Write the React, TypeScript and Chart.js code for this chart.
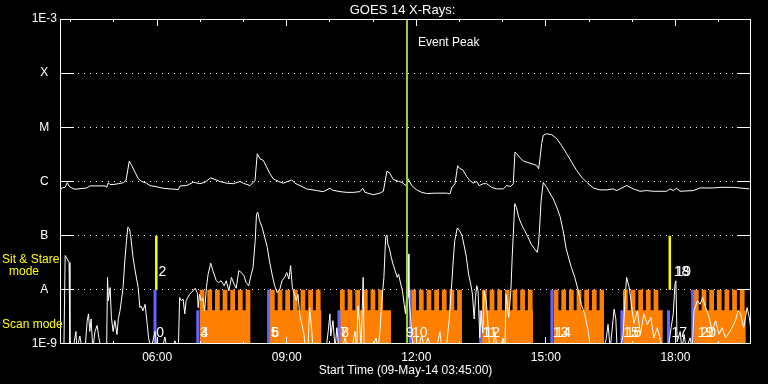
import React, { useEffect, useRef } from 'react';
import { Chart, registerables } from 'chart.js';

Chart.register(...registerables);

const FONT = "'Liberation Sans', Arial, sans-serif";
const T_START = 3.75; // 03:45
const T_END = 19.75;
const Y_MIN = 1e-9;
const Y_MAX = 1e-3;
const BELOW = 8e-10;

const yTickValues = [1e-9, 1e-8, 1e-7, 1e-6, 1e-5, 1e-4, 1e-3];
const yTickLabels = ['1E-9', 'A', 'B', 'C', 'M', 'X', '1E-3'];
const gridLevels = [1e-8, 1e-7, 1e-6, 1e-5, 1e-4];
const xLabelHours = [6, 9, 12, 15, 18];
const hourTicks = [4, 5, 6, 7, 8, 9, 10, 11, 12, 13, 14, 15, 16, 17, 18, 19];

// GOES 14 long channel (1-8 A)
const longTime = [3.766, 3.789, 3.866, 3.919, 3.965, 4.021, 4.097, 4.368, 4.445, 4.792, 4.831, 4.868, 4.908, 4.984, 5.1, 5.216, 5.278, 5.354, 5.41, 5.486, 5.563, 5.641, 5.757, 5.834, 5.95, 6.142, 6.297, 6.489, 6.528, 6.683, 6.836, 6.991, 7.107, 7.239, 7.339, 7.455, 7.61, 7.763, 7.918, 7.994, 8.149, 8.265, 8.318, 8.381, 8.457, 8.536, 8.612, 8.689, 8.804, 8.92, 9.036, 9.115, 9.191, 9.307, 9.462, 9.694, 9.846, 10.001, 10.064, 10.233, 10.388, 10.541, 10.696, 10.759, 10.812, 11.004, 11.159, 11.236, 11.275, 11.321, 11.391, 11.467, 11.583, 11.669, 11.761, 11.815, 11.893, 12.009, 12.125, 12.24, 12.472, 12.703, 12.78, 12.819, 12.896, 12.958, 13.011, 13.074, 13.166, 13.243, 13.319, 13.398, 13.458, 13.551, 13.629, 13.745, 13.861, 14.014, 14.092, 14.185, 14.245, 14.285, 14.324, 14.4, 14.477, 14.632, 14.787, 14.833, 14.863, 14.903, 14.94, 15.019, 15.135, 15.25, 15.366, 15.482, 15.598, 15.713, 15.829, 15.945, 16.098, 16.253, 16.408, 16.561, 16.64, 16.871, 17.024, 17.179, 17.334, 17.487, 17.796, 17.873, 17.95, 18.028, 18.105, 18.413, 18.568, 18.876, 19.031, 19.339, 19.494, 19.709];
const longFlux = [7.0e-7, 7.6e-7, 7.8e-7, 9.5e-7, 8.1e-7, 7.6e-7, 7.2e-7, 7.6e-7, 8.3e-7, 8.3e-7, 7.8e-7, 9.5e-7, 8.8e-7, 8.8e-7, 9.1e-7, 9.5e-7, 1.04e-6, 2.38e-6, 1.98e-6, 1.49e-6, 1.12e-6, 1.0e-6, 9.3e-7, 8.4e-7, 8.1e-7, 7.5e-7, 7.3e-7, 7.1e-7, 8.3e-7, 8.4e-7, 9.7e-7, 9.1e-7, 9.7e-7, 1.17e-6, 1.09e-6, 1.0e-6, 9.3e-7, 9.1e-7, 1.0e-6, 9.3e-7, 8.4e-7, 1.04e-6, 3.26e-6, 2.63e-6, 2.45e-6, 1.84e-6, 1.39e-6, 1.12e-6, 1.01e-6, 9.3e-7, 1.01e-6, 1.07e-6, 9.3e-7, 8.4e-7, 7.3e-7, 6.8e-7, 6.5e-7, 7.5e-7, 6.9e-7, 6.5e-7, 6.3e-7, 6.3e-7, 6.5e-7, 7.5e-7, 6.3e-7, 5.7e-7, 6.1e-7, 6.6e-7, 9.7e-7, 1.56e-6, 1.41e-6, 1.09e-6, 1.01e-6, 9.6e-7, 8.4e-7, 1.12e-6, 8.4e-7, 7.0e-7, 6.3e-7, 6.0e-7, 6.1e-7, 6.1e-7, 5.9e-7, 7.6e-7, 9.1e-7, 1.95e-6, 1.72e-6, 1.65e-6, 1.24e-6, 1.04e-6, 9.3e-7, 1.0e-6, 8.4e-7, 9.1e-7, 9.1e-7, 7.8e-7, 7.3e-7, 7.3e-7, 8.4e-7, 8.1e-7, 9.1e-7, 3.49e-6, 3.26e-6, 2.75e-6, 2.38e-6, 2.18e-6, 1.98e-6, 1.72e-6, 2.63e-6, 5.0e-6, 7.1e-6, 7.6e-6, 7.3e-6, 6.2e-6, 4.6e-6, 3.26e-6, 2.28e-6, 1.6e-6, 1.2e-6, 9.7e-7, 7.6e-7, 7.0e-7, 7.0e-7, 7.3e-7, 6.8e-7, 8.4e-7, 7.3e-7, 6.6e-7, 6.8e-7, 6.6e-7, 6.6e-7, 7.3e-7, 6.8e-7, 7.5e-7, 6.6e-7, 6.8e-7, 7.6e-7, 7.6e-7, 7.8e-7, 7.8e-7, 7.6e-7, 7.3e-7];

// GOES 14 short channel (0.5-4 A)
const shortTime = [3.77, 3.84, 3.87, 3.91, 3.96, 3.98, 4.05, 4.12, 4.14, 4.21, 4.26, 4.33, 4.38, 4.41, 4.44, 4.47, 4.51, 4.56, 4.61, 4.65, 4.7, 4.83, 4.85, 4.87, 4.91, 4.94, 4.98, 5.02, 5.07, 5.1, 5.14, 5.17, 5.21, 5.25, 5.29, 5.32, 5.36, 5.39, 5.44, 5.49, 5.56, 5.6, 5.63, 5.67, 5.72, 5.77, 5.8, 5.86, 5.95, 5.99, 6.11, 6.18, 6.23, 6.34, 6.41, 6.49, 6.52, 6.56, 6.6, 6.64, 6.67, 6.75, 6.83, 6.88, 6.93, 6.95, 6.98, 7.02, 7.06, 7.1, 7.14, 7.18, 7.24, 7.29, 7.37, 7.42, 7.48, 7.55, 7.6, 7.66, 7.72, 7.78, 7.83, 7.89, 7.95, 8.01, 8.06, 8.12, 8.17, 8.22, 8.27, 8.3, 8.33, 8.37, 8.43, 8.49, 8.55, 8.6, 8.66, 8.72, 8.78, 8.84, 8.89, 8.95, 9.0, 9.05, 9.09, 9.13, 9.18, 9.22, 9.26, 9.3, 9.35, 9.4, 9.43, 9.49, 9.53, 9.57, 9.61, 9.91, 9.96, 10.0, 10.02, 10.07, 10.12, 10.16, 10.21, 10.28, 10.35, 10.42, 10.51, 10.58, 10.62, 10.65, 10.69, 10.72, 10.77, 10.79, 10.83, 10.97, 11.07, 11.11, 11.16, 11.19, 11.25, 11.29, 11.32, 11.34, 11.38, 11.42, 11.46, 11.51, 11.56, 11.59, 11.64, 11.68, 11.72, 11.75, 11.77, 11.81, 11.83, 11.87, 11.9, 11.95, 12.04, 12.13, 12.18, 12.27, 12.34, 12.46, 12.55, 12.59, 12.69, 12.76, 12.81, 12.85, 12.89, 12.95, 13.0, 13.06, 13.1, 13.16, 13.21, 13.26, 13.3, 13.34, 13.37, 13.4, 13.43, 13.47, 13.5, 13.54, 13.57, 13.62, 13.68, 13.71, 13.77, 13.82, 13.87, 13.94, 14.01, 14.05, 14.08, 14.14, 14.19, 14.22, 14.28, 14.32, 14.37, 14.43, 14.51, 14.59, 14.66, 14.74, 14.8, 14.83, 14.86, 14.89, 14.94, 15.02, 15.1, 15.17, 15.25, 15.33, 15.4, 15.47, 15.59, 15.67, 15.75, 15.82, 15.9, 15.98, 16.04, 16.35, 16.4, 16.44, 16.49, 16.53, 16.58, 16.62, 16.65, 16.72, 16.79, 16.83, 16.87, 16.93, 16.97, 17.0, 17.04, 17.12, 17.19, 17.27, 17.35, 17.43, 17.5, 17.58, 17.66, 17.73, 17.83, 17.9, 17.95, 17.99, 18.01, 18.04, 18.11, 18.15, 18.2, 18.25, 18.34, 18.39, 18.43, 18.51, 18.57, 18.63, 18.7, 18.78, 18.85, 18.93, 19.01, 19.08, 19.16, 19.24, 19.31, 19.39, 19.45, 19.51, 19.58, 19.66, 19.71, 19.75];
const shortFlux = [8e-10, 8e-10, 4.3e-8, 3.8e-8, 3.2e-8, 8e-10, 8e-10, 1.7e-9, 8e-10, 1.4e-9, 8e-10, 8e-10, 2.7e-9, 3.6e-9, 1.7e-9, 2.9e-9, 8e-10, 1.7e-9, 2.2e-9, 1.3e-9, 8e-10, 8e-10, 1.7e-8, 6.3e-9, 1.1e-8, 3.1e-9, 1.7e-9, 2.7e-9, 1.5e-9, 2.9e-9, 4.1e-9, 6.3e-9, 1.1e-8, 3.4e-8, 8.1e-8, 1.43e-7, 1.33e-7, 9.3e-8, 4.0e-8, 2.25e-8, 1.1e-8, 4.7e-9, 5.0e-9, 4.1e-9, 5.4e-9, 2.3e-9, 1.3e-9, 8e-10, 1.7e-9, 8e-10, 8e-10, 1.35e-9, 8e-10, 8e-10, 1.15e-9, 8e-10, 7.2e-9, 6.3e-9, 6.8e-9, 3.6e-9, 6.3e-9, 8.3e-9, 9.6e-9, 1.07e-8, 8.8e-9, 4.7e-9, 8.3e-9, 6.3e-9, 6.9e-9, 4.1e-9, 1.1e-8, 1.95e-8, 3.1e-8, 2.25e-8, 1.47e-8, 1.36e-8, 1.47e-8, 1.19e-8, 1.47e-8, 9.6e-9, 1.69e-8, 1.28e-8, 1.07e-8, 2.25e-8, 2.09e-8, 1.82e-8, 1.36e-8, 1.19e-8, 1.82e-8, 2.6e-8, 8.1e-8, 2.5e-7, 2.7e-7, 1.9e-7, 1.43e-7, 9.3e-8, 6.1e-8, 3.4e-8, 1.95e-8, 1.19e-8, 8.9e-9, 1.03e-8, 1.47e-8, 1.69e-8, 2.09e-8, 1.58e-8, 2.8e-8, 1.1e-8, 8.3e-9, 6.3e-9, 8.3e-9, 3.6e-9, 2.3e-9, 1.5e-9, 8e-10, 8e-10, 4.7e-9, 2.2e-9, 8e-10, 8e-10, 1.7e-9, 3.6e-9, 1.4e-9, 2.7e-9, 8e-10, 2.0e-9, 8e-10, 8e-10, 1.3e-9, 8e-10, 8e-10, 1.7e-9, 8e-10, 5.1e-9, 2.3e-9, 8e-10, 1.7e-8, 1.1e-9, 8e-10, 8e-10, 1.3e-9, 8e-10, 1.7e-9, 4.7e-9, 1.7e-8, 9.3e-8, 1.03e-7, 7.0e-8, 5.7e-8, 4.0e-8, 3.0e-8, 2.25e-8, 1.7e-8, 1.95e-8, 1.28e-8, 9.6e-9, 5.4e-9, 3.6e-9, 6.3e-9, 4.6e-8, 7.2e-9, 3.1e-9, 1.3e-9, 8e-10, 8e-10, 1.5e-9, 8e-10, 1.3e-9, 8e-10, 8e-10, 1.7e-9, 8e-10, 8e-10, 2.7e-9, 9.6e-9, 3.0e-8, 8.1e-8, 1.39e-7, 1.24e-7, 1.0e-7, 7.0e-8, 4.0e-8, 1.95e-8, 1.28e-8, 8.3e-9, 2.9e-9, 7.2e-9, 1.19e-8, 9.6e-9, 1.3e-9, 4.1e-9, 1.6e-9, 9.6e-9, 6.3e-9, 1.3e-9, 8e-10, 8e-10, 1.7e-9, 8e-10, 8e-10, 1.3e-9, 8e-10, 8.3e-9, 3.1e-9, 9.6e-9, 4.0e-8, 3.9e-7, 3.3e-7, 2.2e-7, 1.65e-7, 1.24e-7, 9.3e-8, 7.0e-8, 5.7e-8, 4.9e-8, 7.0e-8, 1.65e-7, 4.45e-7, 9.6e-7, 7.8e-7, 5.9e-7, 4.8e-7, 3.4e-7, 2.25e-7, 1.24e-7, 5.7e-8, 2.6e-8, 1.7e-8, 9.6e-9, 5.4e-9, 3.6e-9, 1.7e-9, 8e-10, 8e-10, 1.3e-9, 2.3e-9, 8e-10, 1.7e-9, 4.4e-9, 2.9e-9, 8e-10, 8e-10, 1.5e-9, 6.3e-9, 1.7e-8, 1.1e-8, 6.3e-9, 4.1e-9, 2.4e-9, 4.1e-9, 1.5e-9, 3.6e-9, 2.3e-9, 3.1e-9, 1.3e-9, 2.0e-9, 1.1e-9, 8e-10, 8e-10, 2.0e-9, 3.6e-9, 1.28e-8, 1.47e-8, 1.1e-9, 1.7e-9, 8e-10, 1.5e-9, 8e-10, 1.3e-9, 8e-10, 4.1e-9, 6.3e-9, 5.4e-9, 7.2e-9, 4.7e-9, 3.1e-9, 1.7e-9, 2.7e-9, 1.5e-9, 2.0e-9, 1.3e-9, 1.6e-9, 2.0e-9, 2.7e-9, 4.1e-9, 3.6e-9, 2.0e-9, 4.7e-9, 3.1e-9, 1.7e-9];

// Scan-mode observing blocks (orange) and their raster pattern
const scanBlockStart = [6.985, 8.612, 10.233, 11.884, 13.521, 15.181, 16.786, 18.429];
const scanBlockEnd = [8.157, 9.8, 11.414, 13.058, 14.702, 16.346, 17.705, 19.626];
const scanBlockRasters = [7, 7, 6, 7, 7, 7, 5, 7];
const rasterCadenceHours = 0.177;
const rasterDwellHours = 0.11;
const scanHighLevel = 1e-8;
const scanLowLevel = 4.2e-9;

// Pointing changes (blue) and sit & stare intervals (yellow)
const pointingTimes = [5.95, 6.94, 8.58, 10.21, 11.86, 13.49, 15.14, 16.76, 17.84, 18.4];
const pointingTops = [1e-8, 4.2e-9, 1e-8, 4.2e-9, 1e-8, 4.2e-9, 1e-8, 4.2e-9, 4.2e-9, 1e-8];
const sitStareTimes = [5.98, 17.87];
const sitStareTop = 1e-7;
const sitStareBottom = 1e-8;

const eventPeakTime = 11.785;
const eventPeakLabelFlux = 3.6e-4;

// Event number labels
const eventLabelText = ['0', '2', '3', '4', '5', '6', '7', '8', '9', '10', '11', '12', '13', '14', '15', '16', '17', '18', '19', '19', '20'];
const eventLabelTime = [6.07, 6.12, 7.08, 7.1, 8.72, 8.74, 10.33, 10.35, 11.85, 12.08, 13.7, 13.76, 15.34, 15.4, 16.97, 17.03, 18.09, 18.14, 18.18, 18.7, 18.76];
const eventLabelFlux = [1.6e-9, 2.13e-8, 1.6e-9, 1.6e-9, 1.6e-9, 1.6e-9, 1.6e-9, 1.6e-9, 1.6e-9, 1.6e-9, 1.6e-9, 1.6e-9, 1.6e-9, 1.6e-9, 1.6e-9, 1.6e-9, 1.6e-9, 2.13e-8, 2.13e-8, 1.6e-9, 1.6e-9];

const TITLE = 'GOES 14 X-Rays:';
const X_TITLE = 'Start Time (09-May-14 03:45:00)';

const pad2 = (n: number) => (n < 10 ? '0' : '') + n;

function buildScanEnvelope() {
  const pts: { x: number; y: number }[] = [{ x: T_START, y: Y_MIN }];
  scanBlockStart.forEach((s, i) => {
    for (let k = 0; k < scanBlockRasters[i]; k++) {
      const t0 = s + k * rasterCadenceHours;
      pts.push({ x: t0, y: scanHighLevel });
      pts.push({ x: Math.min(t0 + rasterDwellHours, scanBlockEnd[i]), y: scanLowLevel });
    }
    pts.push({ x: scanBlockEnd[i], y: Y_MIN });
  });
  pts.push({ x: T_END, y: Y_MIN });
  return pts;
}

function verticalSegments(times: number[], bottoms: number[], tops: number[]) {
  const pts: { x: number; y: number | null }[] = [];
  times.forEach((t, i) => {
    pts.push({ x: t, y: bottoms[i] }, { x: t, y: tops[i] }, { x: t, y: null });
  });
  return pts;
}

const isEdge = (v: number) => Math.abs(Math.log10(v) + 9) < 1e-6 || Math.abs(Math.log10(v) + 3) < 1e-6;

const overlayPlugin = {
  id: 'goesOverlay',
  afterDatasetsDraw(chart: any) {
    const { ctx, chartArea: a, scales } = chart;
    const xs = scales.x;
    const ys = scales.y;
    ctx.save();
    ctx.strokeStyle = '#ffffff';
    ctx.lineWidth = 1;
    ctx.setLineDash([]);
    ctx.strokeRect(a.left + 0.5, a.top + 0.5, a.right - a.left - 1, a.bottom - a.top - 1);
    ctx.beginPath();
    for (const v of gridLevels) {
      const py = Math.round(ys.getPixelForValue(v) - 0.5) + 0.5;
      ctx.moveTo(a.left, py);
      ctx.lineTo(a.left + 14, py);
      ctx.moveTo(a.right - 14, py);
      ctx.lineTo(a.right, py);
    }
    for (const h of hourTicks) {
      const px = Math.round(xs.getPixelForValue(h) - 0.5) + 0.5;
      const len = h % 3 === 0 ? 7 : 3;
      ctx.moveTo(px, a.top);
      ctx.lineTo(px, a.top + len);
      ctx.moveTo(px, a.bottom);
      ctx.lineTo(px, a.bottom - len);
    }
    ctx.stroke();

    ctx.fillStyle = '#ffffff';
    ctx.textBaseline = 'middle';
    ctx.textAlign = 'center';
    ctx.font = `13px ${FONT}`;
    ctx.fillText(TITLE, (a.left + a.right) / 2 - 3, 10);

    ctx.font = `14px ${FONT}`;
    eventLabelText.forEach((txt, i) => {
      ctx.fillText(txt, xs.getPixelForValue(eventLabelTime[i]), ys.getPixelForValue(eventLabelFlux[i]));
    });

    ctx.textAlign = 'left';
    ctx.font = `12px ${FONT}`;
    ctx.fillText('Event Peak', xs.getPixelForValue(eventPeakTime) + 11, ys.getPixelForValue(eventPeakLabelFlux));

    ctx.fillStyle = '#ffff00';
    ctx.fillText('Sit & Stare', 2, ys.getPixelForValue(3.6e-8));
    ctx.textAlign = 'center';
    ctx.fillText('mode', 24, ys.getPixelForValue(2.2e-8));
    ctx.textAlign = 'left';
    ctx.fillText('Scan mode', 2, ys.getPixelForValue(2.25e-9));
    ctx.restore();
  },
};

export default function App() {
  const ref = useRef<HTMLCanvasElement>(null);
  useEffect(() => {
    const longData = longTime.map((t, i) => ({ x: t, y: longFlux[i] }));
    const shortData = shortTime.map((t, i) => ({ x: t, y: shortFlux[i] }));
    const chart = new Chart(ref.current as HTMLCanvasElement, {
      type: 'line',
      data: {
        datasets: [
          {
            data: [{ x: eventPeakTime, y: BELOW }, { x: eventPeakTime, y: Y_MAX * 1.2 }],
            borderColor: '#9acd32',
            borderWidth: 2,
            borderCapStyle: 'butt',
            pointRadius: 0,
          },
          { data: longData, borderColor: '#ffffff', borderWidth: 1, pointRadius: 0, tension: 0 },
          { data: shortData, borderColor: '#ffffff', borderWidth: 1, pointRadius: 0, tension: 0 },
          {
            data: verticalSegments(sitStareTimes, sitStareTimes.map(() => sitStareBottom), sitStareTimes.map(() => sitStareTop)),
            borderColor: '#ffff00',
            borderWidth: 2.5,
            borderCapStyle: 'butt',
            pointRadius: 0,
            spanGaps: false,
          },
          {
            data: verticalSegments(pointingTimes, pointingTimes.map(() => BELOW), pointingTops),
            borderColor: '#6464ff',
            borderWidth: 3,
            borderCapStyle: 'butt',
            pointRadius: 0,
            spanGaps: false,
          },
          {
            data: buildScanEnvelope(),
            stepped: true,
            fill: 'start',
            backgroundColor: '#ff8000',
            borderColor: 'rgba(0,0,0,0)',
            borderWidth: 0,
            pointRadius: 0,
          },
        ] as any,
      },
      options: {
        responsive: false,
        animation: false,
        events: [],
        layout: { padding: { top: 19, right: 17, bottom: 0, left: 0 } },
        plugins: { legend: { display: false }, tooltip: { enabled: false }, title: { display: false } },
        scales: {
          x: {
            type: 'linear',
            min: T_START,
            max: T_END,
            afterBuildTicks: (s: any) => {
              s.ticks = xLabelHours.map((v) => ({ value: v }));
            },
            afterFit: (s: any) => {
              s.height = 40;
            },
            ticks: {
              color: '#ffffff',
              font: { family: FONT, size: 12 },
              padding: 6,
              maxRotation: 0,
              autoSkip: false,
              callback: (v: any) => pad2(Number(v)) + ':00',
            },
            grid: { display: false, drawTicks: false },
            border: { display: false },
            title: {
              display: true,
              text: X_TITLE,
              color: '#ffffff',
              font: { family: FONT, size: 12 },
              padding: { top: 0, bottom: 6 },
            },
          },
          y: {
            type: 'logarithmic',
            min: Y_MIN,
            max: Y_MAX,
            afterBuildTicks: (s: any) => {
              s.ticks = yTickValues.map((v) => ({ value: v }));
            },
            afterFit: (s: any) => {
              s.width = 60;
            },
            ticks: {
              color: '#ffffff',
              font: { family: FONT, size: 12 },
              padding: 3,
              crossAlign: 'center',
              autoSkip: false,
              callback: (v: any) => {
                const i = yTickValues.findIndex((t) => Math.abs(Math.log10(t) - Math.log10(Number(v))) < 1e-6);
                return i >= 0 ? yTickLabels[i] : '';
              },
            },
            grid: {
              drawTicks: false,
              lineWidth: 1,
              color: (c: any) => (c.tick && !isEdge(c.tick.value) ? '#ffffff' : 'rgba(0,0,0,0)'),
            },
            border: { display: false, dash: [1, 5] },
          },
        },
      } as any,
      plugins: [overlayPlugin],
    });
    return () => chart.destroy();
  }, []);
  return (
    <div style={{ position: 'fixed', left: 0, top: 0, width: 768, height: 384, background: '#000000' }}>
      <canvas ref={ref} width={768} height={384} style={{ display: 'block' }} />
    </div>
  );
}
